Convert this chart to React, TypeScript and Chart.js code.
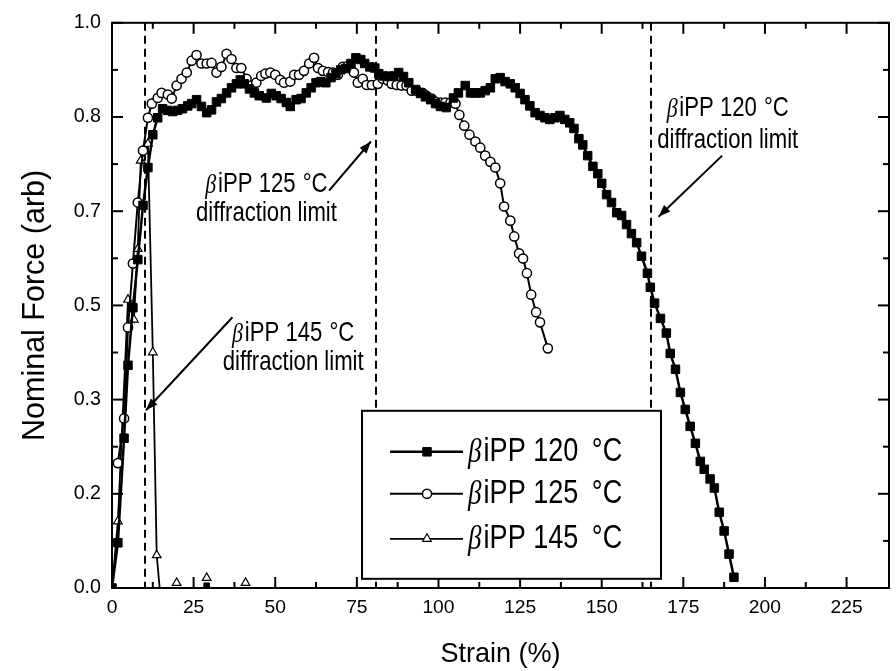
import { useEffect, useRef } from "react";
import { Chart, registerables } from "chart.js";
Chart.register(...registerables);

const seriesLabels = ["βiPP 120 °C", "βiPP 125 °C", "βiPP 145 °C"];

const strain120 = [0, 1.8, 3.7, 4.9, 6.4, 7.9, 9.5, 11.0, 12.5, 14.0,
  15.5, 17.1, 18.6, 20.1, 21.6, 23.2, 24.4, 25.9, 27.4, 29.0,
  30.5, 32.0, 33.5, 35.1, 36.6, 38.1, 39.3, 40.5, 42.1, 43.6,
  45.1, 47.3, 48.8, 50.3, 51.8, 53.4, 54.6, 56.4, 57.9, 59.5,
  61.0, 62.5, 64.0, 65.5, 67.1, 68.6, 70.1, 71.6, 73.2, 74.7,
  76.2, 77.4, 79.0, 80.5, 81.7, 83.2, 84.8, 86.3, 87.8, 89.3,
  90.9, 93.0, 94.5, 96.0, 97.6, 99.1, 100.6, 102.4, 104.6, 106.1,
  108.2, 109.8, 111.3, 112.8, 114.3, 115.9, 117.4, 118.9, 120.4, 122.0,
  123.5, 125.0, 126.5, 128.0, 129.6, 131.1, 132.6, 134.1, 135.7, 137.2,
  138.7, 140.2, 141.5, 143.0, 144.2, 145.7, 147.3, 148.8, 150.0, 151.5,
  153.0, 154.6, 156.1, 157.6, 159.1, 160.7, 162.2, 164.0, 164.9, 166.2,
  168.0, 169.8, 171.0, 172.6, 174.1, 175.6, 177.1, 178.7, 180.2, 181.4,
  183.2, 184.5, 186.0, 187.5, 189.0, 190.5];
const force120 = [0, 0.08, 0.265, 0.394, 0.496, 0.581, 0.677, 0.744, 0.802, 0.832,
  0.848, 0.845, 0.843, 0.845, 0.848, 0.853, 0.857, 0.864, 0.852, 0.841,
  0.846, 0.860, 0.866, 0.876, 0.885, 0.892, 0.899, 0.892, 0.883, 0.876,
  0.871, 0.867, 0.875, 0.871, 0.866, 0.859, 0.852, 0.864, 0.866, 0.876,
  0.885, 0.894, 0.896, 0.894, 0.903, 0.910, 0.917, 0.919, 0.928, 0.938,
  0.935, 0.928, 0.922, 0.920, 0.910, 0.906, 0.905, 0.906, 0.912, 0.905,
  0.894, 0.882, 0.875, 0.869, 0.864, 0.857, 0.852, 0.850, 0.867, 0.876,
  0.889, 0.876, 0.876, 0.876, 0.880, 0.885, 0.901, 0.903, 0.896, 0.892,
  0.885, 0.875, 0.864, 0.853, 0.841, 0.836, 0.832, 0.829, 0.832, 0.836,
  0.829, 0.823, 0.813, 0.795, 0.784, 0.765, 0.746, 0.733, 0.716, 0.696,
  0.682, 0.664, 0.659, 0.643, 0.627, 0.611, 0.587, 0.557, 0.532, 0.504,
  0.477, 0.451, 0.415, 0.387, 0.346, 0.316, 0.286, 0.256, 0.224, 0.210,
  0.193, 0.177, 0.134, 0.101, 0.060, 0.019];

const strain125 = [1.8, 3.7, 4.9, 6.4, 7.9, 9.5, 11.0, 12.2, 14.0, 15.2,
  17.1, 18.3, 19.8, 21.3, 22.9, 24.4, 25.9, 27.4, 29.0, 30.5,
  32.0, 33.5, 35.1, 36.6, 38.1, 39.6, 41.2, 42.7, 44.2, 45.7,
  47.0, 48.5, 50.0, 51.5, 52.7, 54.6, 55.8, 57.3, 58.8, 60.4,
  61.9, 63.1, 64.6, 66.2, 67.7, 69.2, 70.7, 72.3, 74.1, 75.3,
  76.8, 78.0, 79.6, 81.4, 82.9, 84.5, 85.7, 87.2, 88.7, 90.2,
  91.8, 93.3, 95.1, 96.3, 97.9, 99.1, 100.6, 102.1, 103.7, 105.2,
  106.4, 107.9, 109.5, 111.3, 112.8, 114.3, 115.9, 117.4, 118.9, 120.1,
  122.0, 123.2, 124.7, 125.9, 127.1, 128.4, 129.9, 131.1, 133.5];
const force125 = [0.221, 0.300, 0.461, 0.574, 0.682, 0.774, 0.832, 0.857, 0.867, 0.876,
  0.873, 0.866, 0.889, 0.901, 0.912, 0.933, 0.943, 0.928, 0.928, 0.929,
  0.912, 0.922, 0.945, 0.936, 0.920, 0.920, 0.901, 0.889, 0.894, 0.906,
  0.910, 0.912, 0.908, 0.899, 0.894, 0.896, 0.908, 0.908, 0.915, 0.928,
  0.938, 0.920, 0.915, 0.913, 0.912, 0.908, 0.922, 0.924, 0.912, 0.894,
  0.901, 0.890, 0.890, 0.892, 0.901, 0.898, 0.892, 0.890, 0.889, 0.889,
  0.880, 0.880, 0.876, 0.871, 0.866, 0.860, 0.859, 0.859, 0.859, 0.857,
  0.837, 0.818, 0.802, 0.790, 0.779, 0.765, 0.754, 0.744, 0.716, 0.675,
  0.650, 0.622, 0.592, 0.583, 0.557, 0.519, 0.488, 0.470, 0.424];

const strain145 = [0, 1.8, 4.9, 6.7, 7.9, 8.8, 11.0, 12.5, 13.7, 14.6];
const force145 = [0, 0.118, 0.510, 0.475, 0.600, 0.756, 0.786, 0.417, 0.058, 0];

const strayStrain145 = [19.8, 29.0, 40.9];
const strayForce145 = [0.009, 0.018, 0.009];
const strayStrain120 = [29.0];
const strayForce120 = [0.004];

const limitStrains = [10, 81, 165];

const xTickValues = [0, 25, 50, 75, 100, 125, 150, 175, 200, 225];
const yTickValues = [0, 1 / 6, 2 / 6, 3 / 6, 4 / 6, 5 / 6, 1];
const yTickLabels = ["0.0", "0.2", "0.3", "0.5", "0.7", "0.8", "1.0"];

const limitNotes = [
  { lines: ["βiPP 125 °C", "diffraction limit"], cx: 47.3, ys: [0.714, 0.6625], from: [66.5, 0.703], to: [79.3, 0.79] },
  { lines: ["βiPP 145 °C", "diffraction limit"], cx: 55.5, ys: [0.4505, 0.399], from: [36.9, 0.479], to: [10.4, 0.3145] },
  { lines: ["βiPP 120 °C", "diffraction limit"], cx: 188.6, ys: [0.848, 0.7915], from: [186.9, 0.765], to: [167.4, 0.657] },
];

const SANS = "'Liberation Sans', Arial, sans-serif";
const NARROW = "'Liberation Sans Narrow', 'Arial Narrow'";
const SERIF = "'Liberation Serif', 'Times New Roman', serif";

const textCfg = { family: SANS, k: 1, stretch: 1.22 };

function hasFont(name: string) {
  const c = document.createElement("canvas").getContext("2d");
  if (!c) return false;
  const s = "abcdefghij WMmw 0123456789";
  c.font = "40px monospace";
  const a = c.measureText(s).width;
  c.font = `40px '${name}', monospace`;
  const b = c.measureText(s).width;
  return Math.abs(a - b) > 0.5;
}

function pts(xs: number[], ys: number[]) {
  return xs.map((x, i) => ({ x, y: ys[i] }));
}

function drawRich(ctx: CanvasRenderingContext2D, text: string, x: number, y: number, size: number, align: "left" | "center", degGap: number) {
  const greek = text.startsWith("β");
  const rest = greek ? text.slice(1) : text;
  const di = rest.indexOf("°");
  const partA = di >= 0 ? rest.slice(0, di) : rest;
  const partB = di >= 0 ? rest.slice(di) : "";
  const fb = `italic ${Math.round(size * 1.0)}px ${SERIF}`;
  const fr = `${size}px ${textCfg.family}`;
  ctx.font = fb;
  const wb = greek ? ctx.measureText("β").width + size * 0.08 : 0;
  ctx.font = fr;
  const wa = ctx.measureText(partA).width;
  const wB = partB ? ctx.measureText(partB).width + degGap : 0;
  const total = wb + wa + wB;
  const x0 = align === "center" ? x - total / 2 : x;
  ctx.save();
  ctx.translate(0, y);
  ctx.scale(1, textCfg.stretch);
  ctx.textBaseline = "middle";
  ctx.textAlign = "left";
  ctx.fillStyle = "#000";
  if (greek) {
    ctx.font = fb;
    ctx.fillText("β", x0, 1);
  }
  ctx.font = fr;
  ctx.fillText(partA, x0 + wb, 0);
  if (partB) ctx.fillText(partB, x0 + wb + wa + degGap, 0);
  ctx.restore();
}

function drawMarker(ctx: CanvasRenderingContext2D, style: string, x: number, y: number, r: number, fill: string) {
  ctx.beginPath();
  if (style === "rect") {
    const s = r * Math.SQRT1_2;
    ctx.rect(x - s, y - s, 2 * s, 2 * s);
  } else if (style === "circle") {
    ctx.arc(x, y, r, 0, Math.PI * 2);
  } else {
    ctx.moveTo(x, y - r);
    ctx.lineTo(x + r * 0.866, y + r * 0.5);
    ctx.lineTo(x - r * 0.866, y + r * 0.5);
    ctx.closePath();
  }
  ctx.fillStyle = fill;
  ctx.fill();
  ctx.stroke();
}

const decorPlugin = {
  id: "decor",
  beforeDatasetsDraw(chart: any) {
    const { ctx, chartArea: a, scales } = chart;
    const x = scales.x;
    ctx.save();
    ctx.strokeStyle = "#000";
    ctx.lineWidth = 2;
    ctx.setLineDash([8, 5]);
    limitStrains.forEach((v) => {
      const px = Math.round(x.getPixelForValue(v));
      ctx.beginPath();
      ctx.moveTo(px, a.top);
      ctx.lineTo(px, a.bottom);
      ctx.stroke();
    });
    ctx.restore();
  },
  afterDatasetsDraw(chart: any) {
    const { ctx, chartArea: a, scales } = chart;
    const x = scales.x;
    const y = scales.y;
    const k = textCfg.k;
    ctx.save();
    ctx.strokeStyle = "#000";
    ctx.lineWidth = 2;
    ctx.setLineDash([]);
    ctx.strokeRect(a.left, a.top, a.right - a.left, a.bottom - a.top);

    const seg = (x1: number, y1: number, x2: number, y2: number) => {
      ctx.beginPath();
      ctx.moveTo(x1, y1);
      ctx.lineTo(x2, y2);
      ctx.stroke();
    };
    const major = 11;
    const minor = 6;
    const xs = xTickValues[1] - xTickValues[0];
    xTickValues.forEach((v) => {
      const px = x.getPixelForValue(v);
      seg(px, a.bottom, px, a.bottom - major);
      seg(px, a.top, px, a.top + major);
      const m = v + xs / 2;
      if (m < x.max - 1) {
        const pm = x.getPixelForValue(m);
        seg(pm, a.bottom, pm, a.bottom - minor);
        seg(pm, a.top, pm, a.top + minor);
      }
    });
    yTickValues.forEach((v, i) => {
      const py = y.getPixelForValue(v);
      seg(a.left, py, a.left + major, py);
      seg(a.right, py, a.right - major, py);
      if (i < yTickValues.length - 1) {
        const pm = y.getPixelForValue((v + yTickValues[i + 1]) / 2);
        seg(a.left, pm, a.left + minor, pm);
        seg(a.right, pm, a.right - minor, pm);
      }
    });

    // annotations
    limitNotes.forEach((n) => {
      const cx = x.getPixelForValue(n.cx);
      n.lines.forEach((t, i) => drawRich(ctx, t, cx, y.getPixelForValue(n.ys[i]), 27 * k, "center", 1));
      const x1 = x.getPixelForValue(n.from[0]);
      const y1 = y.getPixelForValue(n.from[1]);
      const x2 = x.getPixelForValue(n.to[0]);
      const y2 = y.getPixelForValue(n.to[1]);
      ctx.lineWidth = 2;
      ctx.strokeStyle = "#000";
      seg(x1, y1, x2, y2);
      const ang = Math.atan2(y2 - y1, x2 - x1);
      const L = 12;
      const W = 4.5;
      ctx.beginPath();
      ctx.moveTo(x2, y2);
      ctx.lineTo(x2 - L * Math.cos(ang) + W * Math.sin(ang), y2 - L * Math.sin(ang) - W * Math.cos(ang));
      ctx.lineTo(x2 - L * Math.cos(ang) - W * Math.sin(ang), y2 - L * Math.sin(ang) + W * Math.cos(ang));
      ctx.closePath();
      ctx.fillStyle = "#000";
      ctx.fill();
    });

    // legend
    const bx = a.left + 250;
    const by = a.top + 388;
    const bw = 299;
    const bh = 168;
    ctx.fillStyle = "#fff";
    ctx.fillRect(bx, by, bw, bh);
    ctx.lineWidth = 2;
    ctx.strokeStyle = "#000";
    ctx.strokeRect(bx, by, bw, bh);
    const rows = [41, 83, 128];
    chart.data.datasets.slice(0, 3).forEach((ds: any, i: number) => {
      const ry = by + rows[i];
      ctx.strokeStyle = "#000";
      ctx.lineWidth = ds.borderWidth;
      seg(bx + 28, ry, bx + 101, ry);
      ctx.lineWidth = ds.pointBorderWidth;
      drawMarker(ctx, ds.pointStyle, bx + 65, ry, typeof ds.pointRadius === "number" ? ds.pointRadius : 5, ds.pointBackgroundColor);
      drawRich(ctx, ds.label, bx + 106, ry, 33 * k, "left", 6);
    });
    ctx.restore();
  },
};

export default function App() {
  const ref = useRef<HTMLCanvasElement | null>(null);
  useEffect(() => {
    document.body.style.margin = "0";
    const canvas = ref.current;
    if (!canvas) return;
    const narrow = hasFont("Liberation Sans Narrow");
    textCfg.family = narrow ? NARROW : SANS;
    textCfg.k = narrow ? 1 : 0.82;
    textCfg.stretch = narrow ? 1.06 : 1.25;
    const k = textCfg.k;
    const hideZero = (c: any) => (c.raw && c.raw.y <= 0 ? 0 : 5);
    const chart = new Chart(canvas, {
      type: "line",
      data: {
        datasets: [
          {
            label: seriesLabels[0],
            data: pts(strain120, force120),
            borderColor: "#000",
            borderWidth: 2.5,
            pointStyle: "rect",
            pointRadius: 6,
            pointBackgroundColor: "#000",
            pointBorderColor: "#000",
            pointBorderWidth: 1,
            tension: 0,
          },
          {
            label: seriesLabels[1],
            data: pts(strain125, force125),
            borderColor: "#000",
            borderWidth: 2,
            pointStyle: "circle",
            pointRadius: 4.6,
            pointBackgroundColor: "#fff",
            pointBorderColor: "#000",
            pointBorderWidth: 1.5,
            tension: 0,
          },
          {
            label: seriesLabels[2],
            data: pts(strain145, force145),
            borderColor: "#000",
            borderWidth: 1.8,
            pointStyle: "triangle",
            pointRadius: hideZero as any,
            pointBackgroundColor: "#fff",
            pointBorderColor: "#000",
            pointBorderWidth: 1.2,
            tension: 0,
          },
          {
            label: "stray145",
            data: pts(strayStrain145, strayForce145),
            showLine: false,
            pointStyle: "triangle",
            pointRadius: 5,
            pointBackgroundColor: "#fff",
            pointBorderColor: "#000",
            pointBorderWidth: 1.2,
          },
          {
            label: "stray120",
            data: pts(strayStrain120, strayForce120),
            showLine: false,
            pointStyle: "rect",
            pointRadius: 4,
            pointBackgroundColor: "#000",
            pointBorderColor: "#000",
          },
        ],
      },
      options: {
        responsive: false,
        animation: false,
        layout: { padding: { left: 0, right: 3, top: 21, bottom: 0 } },
        plugins: { legend: { display: false }, tooltip: { enabled: false } },
        scales: {
          x: {
            type: "linear",
            min: 0,
            max: 238,
            grid: { display: false, drawTicks: false },
            border: { display: false },
            afterBuildTicks: (s: any) => {
              s.ticks = xTickValues.map((v) => ({ value: v }));
            },
            afterFit: (s: any) => {
              s.height = 83;
            },
            ticks: {
              padding: 8,
              color: "#000",
              autoSkip: false,
              maxRotation: 0,
              font: { family: textCfg.family, size: 23.5 * k },
              callback: (v: any) => String(v),
            },
            title: {
              display: true,
              text: "Strain (%)",
              color: "#000",
              font: { family: textCfg.family, size: 33 * k },
              padding: { top: 0, bottom: 0 },
            },
          },
          y: {
            type: "linear",
            min: 0,
            max: 1,
            grid: { display: false, drawTicks: false },
            border: { display: false },
            afterBuildTicks: (s: any) => {
              s.ticks = yTickValues.map((v) => ({ value: v }));
            },
            afterFit: (s: any) => {
              s.width = 112;
            },
            ticks: {
              padding: 11,
              color: "#000",
              autoSkip: false,
              font: { family: textCfg.family, size: 24 * k },
              callback: (_v: any, i: number) => yTickLabels[i],
            },
            title: {
              display: true,
              text: "Nominal Force (arb)",
              color: "#000",
              font: { family: SANS, size: 30.5 },
              padding: { top: 17, bottom: 0 },
            },
          },
        },
      },
      plugins: [decorPlugin],
    } as any);
    return () => chart.destroy();
  }, []);
  return (
    <div style={{ width: 896, height: 671, background: "#fff" }}>
      <canvas ref={ref} width={896} height={671} style={{ display: "block", width: 896, height: 671 }} />
    </div>
  );
}
